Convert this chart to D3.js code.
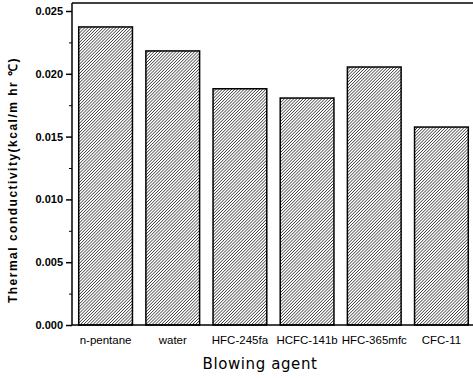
<!DOCTYPE html>
<html><head><meta charset="utf-8">
<script src="https://cdn.jsdelivr.net/npm/d3@7"></script>
<style>body{margin:0;background:#fff}</style>
</head><body>
<script>
const categories = ["n-pentane","water","HFC-245fa","HCFC-141b","HFC-365mfc","CFC-11"];
const values = [0.02373,0.02182,0.01881,0.01807,0.02054,0.01576];
const yTicks = [0,0.005,0.010,0.015,0.020,0.025];
const yMinorTicks = [0.0025,0.0075,0.0125,0.0175,0.0225];

const W=473,H=378;
const m={left:72,top:3,right:475,bottom:325};
const svg=d3.select("body").append("svg").attr("width",W).attr("height",H);
const defs=svg.append("defs");
const P=2.2;
const pat=defs.append("pattern").attr("id","hatch").attr("patternUnits","userSpaceOnUse")
  .attr("width",P).attr("height",P).attr("patternTransform","rotate(45)");
pat.append("rect").attr("width",P).attr("height",P).attr("fill","#fff");
pat.append("line").attr("x1",0).attr("y1",0).attr("x2",0).attr("y2",P).attr("stroke","#111").attr("stroke-width",1.2);

const x=d3.scaleBand().domain(categories).range([m.left,m.right]).paddingInner(0.2).paddingOuter(0.1);
const y=d3.scaleLinear().domain([0,0.025]).range([m.bottom,11]);

svg.selectAll("rect.bar").data(values).join("rect").attr("class","bar")
  .attr("x",(d,i)=>x(categories[i])).attr("width",x.bandwidth())
  .attr("y",d=>y(d)).attr("height",d=>m.bottom-y(d))
  .attr("fill","url(#hatch)").attr("stroke","#000").attr("stroke-width",1.5);

// frame
svg.append("line").attr("x1",m.left).attr("x2",m.right).attr("y1",m.top).attr("y2",m.top).attr("stroke","#000").attr("stroke-width",1.5);

const yAxis=svg.append("g").attr("transform",`translate(${m.left},0)`)
  .call(d3.axisLeft(y).tickValues(yTicks).tickFormat(d3.format(".3f")).tickSize(6).tickPadding(3));
yAxis.select(".domain").attr("d",`M0,${m.top}V${m.bottom}`).attr("stroke-width",1.5);
yAxis.selectAll("text").attr("font-family","Arial, 'Liberation Sans', sans-serif").attr("font-size",11).attr("font-weight","bold").attr("fill","#000");
yAxis.selectAll("line").attr("stroke-width",1.5);
svg.append("g").attr("transform",`translate(${m.left},0)`)
  .call(d3.axisLeft(y).tickValues(yMinorTicks).tickFormat("").tickSize(3))
  .select(".domain").remove();

const xAxis=svg.append("g").attr("transform",`translate(0,${m.bottom})`)
  .call(d3.axisBottom(x).tickSize(0).tickPadding(11));
xAxis.select(".domain").attr("d",`M${m.left},0H${m.right}`).attr("stroke-width",1.5);
xAxis.selectAll("text").attr("font-family","Arial, 'Liberation Sans', sans-serif").attr("font-size",11.5).attr("fill","#000");

svg.append("text").attr("x",260).attr("y",369).attr("text-anchor","middle")
  .attr("font-family","'DejaVu Sans', sans-serif").attr("font-size",15).attr("letter-spacing",0.6).attr("fill","#000").text("Blowing agent");
svg.append("text").attr("transform","translate(17,180) rotate(-90)").attr("text-anchor","middle")
  .attr("font-family","Arial, 'Liberation Sans', sans-serif").attr("font-size",12).attr("font-weight","bold").attr("letter-spacing",1.5).attr("fill","#000")
  .text("Thermal conductivity(kcal/m hr ℃)");
</script>
</body></html>
